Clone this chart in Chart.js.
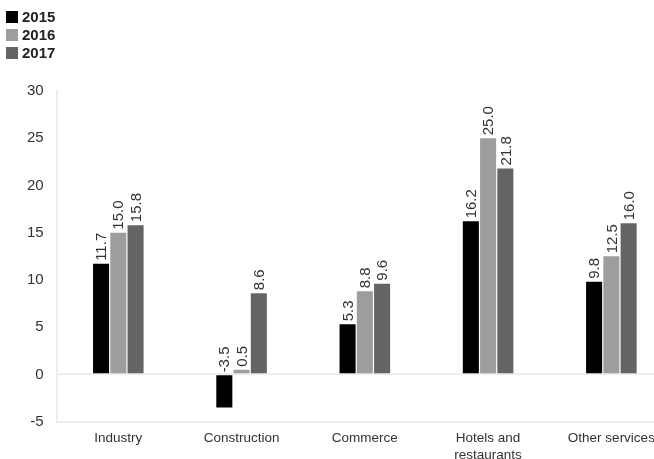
<!DOCTYPE html>
<html>
<head>
<meta charset="utf-8">
<script src="https://cdn.jsdelivr.net/npm/chart.js@4"></script>
<style>
  html, body { margin: 0; padding: 0; background: #fff; overflow: hidden; width: 654px; height: 459px; }
  #wrap { position: absolute; left: 0; top: 0; width: 678px; height: 464px; }
  #legend { position: absolute; left: 6px; top: 8px; font-family: "Liberation Sans", Arial, sans-serif; font-weight: bold; font-size: 15px; color: #222; }
  #legend .item { height: 18px; line-height: 18px; display: flex; align-items: center; }
  #legend .box { width: 12px; height: 12px; margin-right: 4px; }
</style>
</head>
<body>
<div id="wrap"><canvas id="chart"></canvas></div>
<div id="legend"></div>
<script>
const categories = ['Industry', 'Construction', 'Commerce', ['Hotels and', 'restaurants'], 'Other services'];
const years = ['2015', '2016', '2017'];
const values2015 = [11.7, -3.5, 5.3, 16.2, 9.8];
const values2016 = [15.0, 0.5, 8.8, 25.0, 12.5];
const values2017 = [15.8, 8.6, 9.6, 21.8, 16.0];
const colors = ['#000000', '#9d9d9c', '#646464'];
const yTicks = [-5, 0, 5, 10, 15, 20, 25, 30];

const series = [values2015, values2016, values2017];

// legend in html, stacked top-left like the original
const legendEl = document.getElementById('legend');
years.forEach((y, i) => {
  const item = document.createElement('div');
  item.className = 'item';
  item.innerHTML = `<div class="box" style="background:${colors[i]}"></div><div>${y}</div>`;
  legendEl.appendChild(item);
});

// value labels, rotated, above each bar
const barLabels = {
  id: 'barLabels',
  afterDatasetsDraw(chart) {
    const ctx = chart.ctx;
    ctx.save();
    ctx.font = '15px "Liberation Sans", Arial, sans-serif';
    ctx.fillStyle = '#333';
    chart.data.datasets.forEach((ds, di) => {
      const meta = chart.getDatasetMeta(di);
      meta.data.forEach((bar, i) => {
        const top = Math.min(bar.y, bar.base);
        ctx.save();
        ctx.translate(bar.x, top - 3);
        ctx.rotate(-Math.PI / 2);
        ctx.textAlign = 'left';
        ctx.textBaseline = 'middle';
        ctx.fillText(ds.data[i].toFixed(1), 0, 1);
        ctx.restore();
      });
    });
    ctx.restore();
  }
};

new Chart(document.getElementById('chart'), {
  type: 'bar',
  data: {
    labels: categories,
    datasets: years.map((y, i) => ({
      label: y,
      data: series[i],
      backgroundColor: colors[i],
      categoryPercentage: 0.42,
      barPercentage: 0.93
    }))
  },
  options: {
    responsive: true,
    maintainAspectRatio: false,
    animation: false,
    layout: { padding: { left: 14, right: 5, top: 91, bottom: 0 } },
    plugins: {
      legend: { display: false },
      tooltip: { enabled: false }
    },
    scales: {
      x: {
        grid: { display: false },
        border: { color: '#eeeeee', width: 2 },
        ticks: {
          color: '#333',
          padding: 1,
          maxRotation: 0,
          font: { family: '"Liberation Sans", Arial, sans-serif', size: 13.5, lineHeight: 1.2 }
        }
      },
      y: {
        min: -5,
        max: 30,
        afterBuildTicks: axis => { axis.ticks = yTicks.map(v => ({ value: v })); },
        border: { color: '#eeeeee', width: 2 },
        grid: {
          drawTicks: false,
          lineWidth: 2,
          color: c => (c.tick && c.tick.value === 0) ? '#eeeeee' : 'transparent'
        },
        ticks: {
          color: '#333',
          padding: 13,
          font: { family: '"Liberation Sans", Arial, sans-serif', size: 15 }
        }
      }
    }
  },
  plugins: [barLabels]
});
</script>
</body>
</html>
